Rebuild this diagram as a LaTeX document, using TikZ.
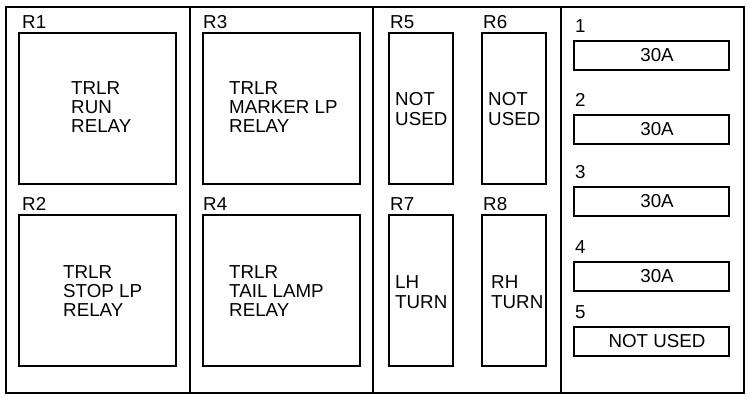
\documentclass[tikz,border=0pt]{standalone}
\usepackage{fontspec}
\setmainfont{Liberation Sans}
\begin{document}
\begin{tikzpicture}[x=0.03cm, y=-0.03cm,
    box/.style={draw, line width=1.6pt},
    tag/.style={anchor=base west, inner sep=0pt, font=\fontsize{16}{18}\selectfont},
    txt/.style={anchor=west, inner sep=0pt, align=left, font=\fontsize{16}{16.5}\selectfont}]
    \useasboundingbox (0,0) rectangle (750,401);
    % panel and dividers
    \draw[box] (6,7) rectangle (744,393);
    \draw[box] (190,7) -- (190,393);
    \draw[box] (373,7) -- (373,393);
    \draw[box] (561,7) -- (561,393);

    % Big relays
    \draw[box] (19,33) rectangle (176,184);
    \draw[box] (19,215) rectangle (176,366);
    \draw[box] (203,33) rectangle (360,184);
    \draw[box] (203,215) rectangle (360,366);
    \node[tag] (r1) at (22,29) {R1};
    \node[tag] (r2) at (22,211) {R2};
    \node[tag] (r3) at (203,29) {R3};
    \node[tag] (r4) at (203,211) {R4};
    \node[txt] (t1) at (71,107) {TRLR\\RUN\\RELAY};
    \node[txt] (t2) at (63,291) {TRLR\\STOP LP\\RELAY};
    \node[txt] (t3) at (229,107) {TRLR\\MARKER LP\\RELAY};
    \node[txt] (t4) at (229,291) {TRLR\\TAIL LAMP\\RELAY};

    % Small relays
    \draw[box] (389,33) rectangle (453,184);
    \draw[box] (482,33) rectangle (546,184);
    \draw[box] (389,215) rectangle (453,366);
    \draw[box] (482,215) rectangle (546,366);
    \node[tag] (r5) at (390,29) {R5};
    \node[tag] (r6) at (483,29) {R6};
    \node[tag] (r7) at (390,211) {R7};
    \node[tag] (r8) at (483,211) {R8};
    \node[txt] (t5) at (395,109) {NOT\\USED};
    \node[txt] (t6) at (488,109) {NOT\\USED};
    \node[txt] (t7) at (395,292) {LH\\TURN};
    \node[txt] (t8) at (491,292) {RH\\TURN};

    % Fuses
    \foreach \n/\y/\lbl in {1/41/30A, 2/115/30A, 3/187/30A, 4/262/30A, 5/327/NOT USED} {
        \draw[box] (574,\y) rectangle (729,\y+29);
        \node[tag] (f\n) at (575,\y-8) {\n};
        \node[inner sep=0pt, font=\fontsize{16}{18}\selectfont] (v\n) at (657,\y+14.5) {\lbl};
    }
\end{tikzpicture}
\end{document}
